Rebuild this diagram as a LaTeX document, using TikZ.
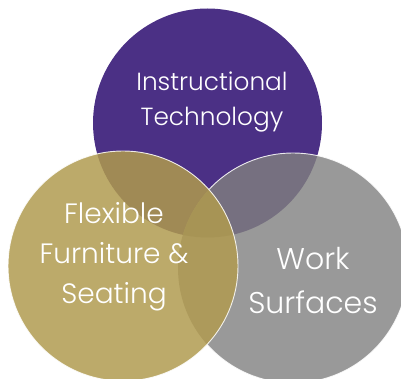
\documentclass[tikz,border=0pt]{standalone}
\usepackage{fontspec}
\IfFontExistsTF{Poppins Light}{\setmainfont{Poppins Light}}{\setmainfont{Poppins}}
\definecolor{techpurple}{HTML}{4B3085}
\definecolor{furngold}{HTML}{BCAA6A}
\definecolor{worksgray}{HTML}{999999}
\definecolor{techfurn}{HTML}{A08A55}
\definecolor{techwork}{HTML}{767080}
\definecolor{furnwork}{HTML}{AD9A5B}
\definecolor{allthree}{HTML}{A79455}
\begin{document}
\begin{tikzpicture}[x=1pt,y=-1pt,
  rim/.style={draw=white,draw opacity=0.85,line width=0.9pt},
  label/.style={text=white,align=center,inner sep=0pt}]
\useasboundingbox (0,0) rectangle (401,379);
\coordinate (ct) at (207.5,123);
\coordinate (cf) at (123,266);
\coordinate (cw) at (293,268);
\def\rt{114.5}
\def\rf{115}
\def\rw{115}
% base discs
\fill[techpurple] (ct) circle (\rt);
\fill[worksgray] (cw) circle (\rw);
\begin{scope}
  \clip (ct) circle (\rt);
  \fill[techwork] (cw) circle (\rw);
\end{scope}
\draw[rim] (cw) circle (\rw);
\fill[furngold] (cf) circle (\rf);
\begin{scope}
  \clip (cf) circle (\rf);
  \fill[techfurn] (ct) circle (\rt);
  \fill[furnwork] (cw) circle (\rw);
  \clip (ct) circle (\rt);
  \fill[allthree] (cw) circle (\rw);
\end{scope}
\draw[rim] (cf) circle (\rf);
% labels
\node[label,font=\fontsize{24.8}{35}\selectfont] (tech) at (212,102)
  {Instructional\\Technology};
\node[label,font=\fontsize{28}{40}\selectfont] (furn) at (114,257)
  {Flexible\\Furniture \&\\Seating};
\node[label,font=\fontsize{30}{44}\selectfont] (work) at (313,281)
  {Work\\Surfaces};
\end{tikzpicture}
\end{document}
